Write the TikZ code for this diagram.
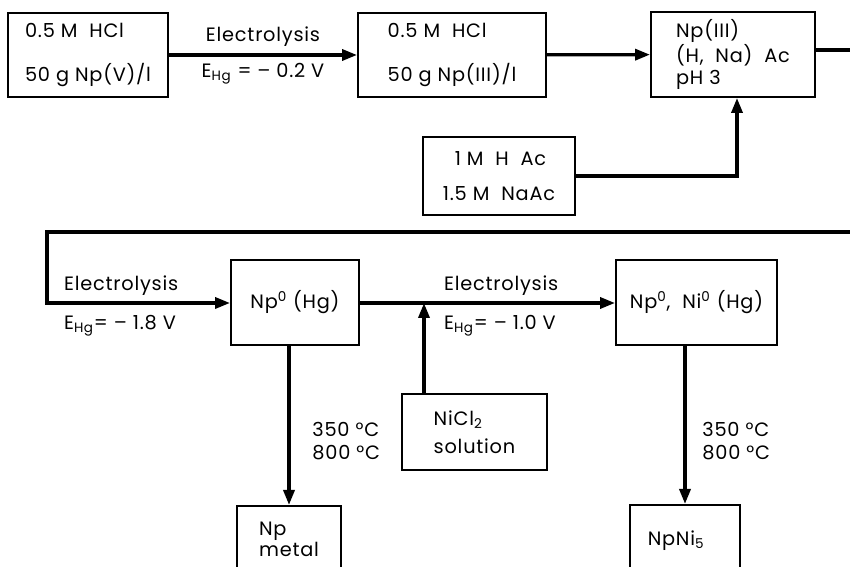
\documentclass[tikz,border=0pt]{standalone}
\usepackage{fontspec}
\setmainfont[LetterSpace=4]{Poppins}
\usetikzlibrary{arrows.meta}
\begin{document}
\begin{tikzpicture}[x=0.02cm, y=-0.02cm,
        font=\fontsize{11}{13}\selectfont,
        box/.style={rectangle, draw, line width=1.1pt, align=left, inner sep=2pt},
        flow/.style={-{Triangle[length=3mm, width=2.2mm]}, line width=1.9pt},
        pipe/.style={line width=1.9pt},
        lbl/.style={inner sep=1pt}
    ]
    \useasboundingbox (0,0) rectangle (850,567);
    % Top row
    \node[box, minimum width=3.2cm, minimum height=1.68cm] (hcl5) at (88,55)
        {0.5 M\ \ HCl\\[12pt]50 g Np(V)/l};
    \node[box, minimum width=3.76cm, minimum height=1.68cm] (hcl3) at (452,55)
        {0.5 M\ \ HCl\\[12pt]50 g Np(III)/l};
    \node[box, minimum width=3.28cm, minimum height=1.7cm] (acet) at (733,54.5)
        {Np(III)\\(H,\ \ Na)\ \ Ac\\pH 3};
    \node[box, minimum width=3.04cm, minimum height=1.56cm] (buff) at (499,176)
        {\ \ 1 M\ \ H\ \ Ac\\[7pt]1.5 M\ \ NaAc};
    \draw[flow] (hcl5) -- node[lbl, above=3pt] {Electrolysis}
        node[lbl, below=3pt] {E\textsubscript{Hg} = -- 0.2 V} (hcl3);
    \draw[flow] (hcl3) -- (acet);
    \draw[flow] (buff.east) -| ([xshift=0.08cm]acet.south);

    % Carry-over line
    \coordinate (outR) at (850,50);
    \coordinate (inR) at (850,232);
    \coordinate (inL) at (47,232);
    \coordinate (bend) at (47,303);
    \draw[pipe] (acet.east |- outR) -- (outR);

    % Bottom row
    \node[box, minimum width=2.56cm, minimum height=1.7cm] (amal) at (295,302.5)
        {Np\textsuperscript{0} (Hg)};
    \node[box, minimum width=3.22cm, minimum height=1.7cm] (alloy) at (696.5,302.5)
        {Np\textsuperscript{0},\ \ Ni\textsuperscript{0} (Hg)};
    \node[box, minimum width=2.9cm, minimum height=1.52cm] (nicl) at (474.5,432)
        {NiCl\textsubscript{2}\\[3pt]solution};
    \node[box, anchor=north, minimum width=2.08cm, text depth=1.1cm] (metal) at (289,505)
        {\rule{0pt}{15pt}Np\\[-1pt]metal};
    \node[box, anchor=north, minimum width=2.2cm, text depth=1.1cm] (npni) at (685,504)
        {\rule{0pt}{21pt}NpNi\textsubscript{5}\ \ \ };
    \coordinate (join) at (424,303);

    \draw[flow] (inR) -- (inL) -- (bend) -- (amal.west |- bend);
    \node[lbl, anchor=south west] (el2) at ([xshift=0.3cm, yshift=0.1cm]bend) {Electrolysis};
    \node[lbl, anchor=north west] (eh2) at ([xshift=0.3cm, yshift=-0.2cm]bend) {E\textsubscript{Hg}= -- 1.8 V};
    \draw[flow] (amal.east |- join) -- (alloy.west |- join);
    \draw[flow] (nicl.north -| join) -- (join);
    \node[lbl, anchor=south west] (el3) at ([xshift=0.36cm, yshift=0.1cm]join) {Electrolysis};
    \node[lbl, anchor=north west] (eh3) at ([xshift=0.36cm, yshift=-0.2cm]join) {E\textsubscript{Hg}= -- 1.0 V};

    \draw[flow] (amal.south -| metal.north) -- node[lbl, right=0.4cm, pos=0.6, align=left]
        {350 °C\\800 °C} (metal.north);
    \draw[flow] (alloy.south -| npni.north) -- node[lbl, right=0.28cm, pos=0.6, align=left]
        {350 °C\\800 °C} (npni.north);
\end{tikzpicture}
\end{document}
